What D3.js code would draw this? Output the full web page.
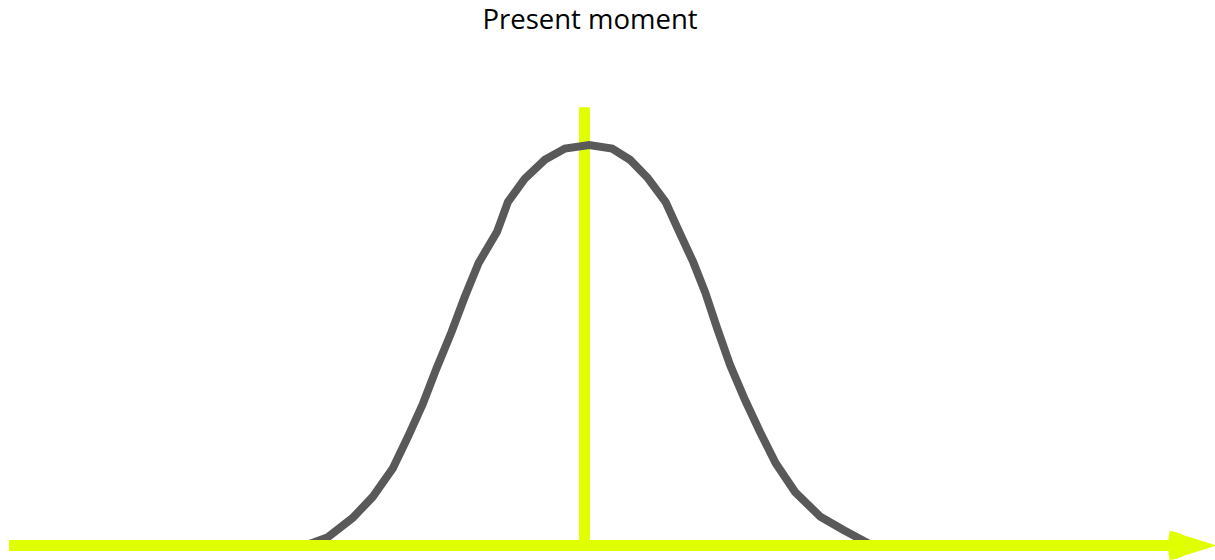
<!DOCTYPE html>
<html>
<head>
<meta charset="utf-8">
<script src="https://cdn.jsdelivr.net/npm/d3@7"></script>
<style>
  html, body { margin: 0; padding: 0; background: #ffffff; }
  svg { display: block; }
</style>
</head>
<body>
<svg id="chart" width="1215" height="560"></svg>
<script>
// ---- data ----
const title = "Present moment";
// time offset relative to the present moment
const timeOffsets = [-48.5, -44.6, -40.3, -36.8, -33.3, -30.7, -28.1, -25.7, -23.1, -20.8, -18.4, -15.2, -13.3, -10.4, -6.9, -3.4,
                      0.8, 4.8, 7.9, 11.0, 14.1, 16.3, 18.9, 21.0, 23.1, 25.3, 27.9, 30.5, 33.2, 36.6, 41.0, 45.0, 50.0];
// relative attention (peak = 100)
const attention = [0, 2.1, 6.9, 12.2, 19.4, 27.2, 35.5, 44.5, 53.6, 62.4, 70.9, 78.7, 86.2, 92.0, 96.8, 99.6,
                   100.5, 99.6, 96.8, 92.2, 86.2, 79.2, 71.1, 63.4, 54.3, 45.3, 36.5, 28.5, 20.7, 13.4, 7.2, 3.9, 0];
const axisStart = -100;
const axisEnd = 101.5;
const presentMoment = 0;
const presentTop = 110;

// ---- scales ----
const x = d3.scaleLinear().domain([-100, 100]).range([9, 1160]);
const y = d3.scaleLinear().domain([0, 100]).range([545.5, 147]);

const svg = d3.select("#chart");
const yellow = "#e0ff00";

// title
svg.append("text")
  .attr("x", 590)
  .attr("y", 28.5)
  .attr("text-anchor", "middle")
  .attr("font-family", "'Open Sans', 'Liberation Sans', sans-serif")
  .attr("font-size", 27.5)
  .attr("fill", "#000000")
  .text(title);

// vertical "present moment" line
svg.append("line")
  .attr("x1", x(presentMoment)).attr("x2", x(presentMoment))
  .attr("y1", y(presentTop)).attr("y2", y(0))
  .attr("stroke", yellow)
  .attr("stroke-width", 11);

// bell curve
const pts = timeOffsets.map((t, i) => [t, attention[i]]);
const line = d3.line().x(d => x(d[0])).y(d => y(d[1])).curve(d3.curveLinear);
svg.append("path")
  .attr("d", line(pts))
  .attr("fill", "none")
  .attr("stroke", "#595959")
  .attr("stroke-width", 8)
  .attr("stroke-linejoin", "miter")
  .attr("stroke-linecap", "butt");

// horizontal time axis with arrow
const ay = y(0);
const xs = x(axisStart), xe = x(axisEnd);
svg.append("line")
  .attr("x1", xs).attr("x2", xe + 3)
  .attr("y1", ay).attr("y2", ay)
  .attr("stroke", yellow)
  .attr("stroke-width", 11);

const head = d3.path();
head.moveTo(xe + 1, ay - 14.5);
head.quadraticCurveTo(xe + 8, ay - 14, xe + 16, ay - 10);
head.lineTo(xe + 48, ay);
head.lineTo(xe + 16, ay + 10);
head.quadraticCurveTo(xe + 8, ay + 14, xe + 1, ay + 14.5);
head.quadraticCurveTo(xe - 2, ay, xe + 1, ay - 14.5);
head.closePath();
svg.append("path")
  .attr("d", head.toString())
  .attr("fill", yellow);
</script>
</body>
</html>
